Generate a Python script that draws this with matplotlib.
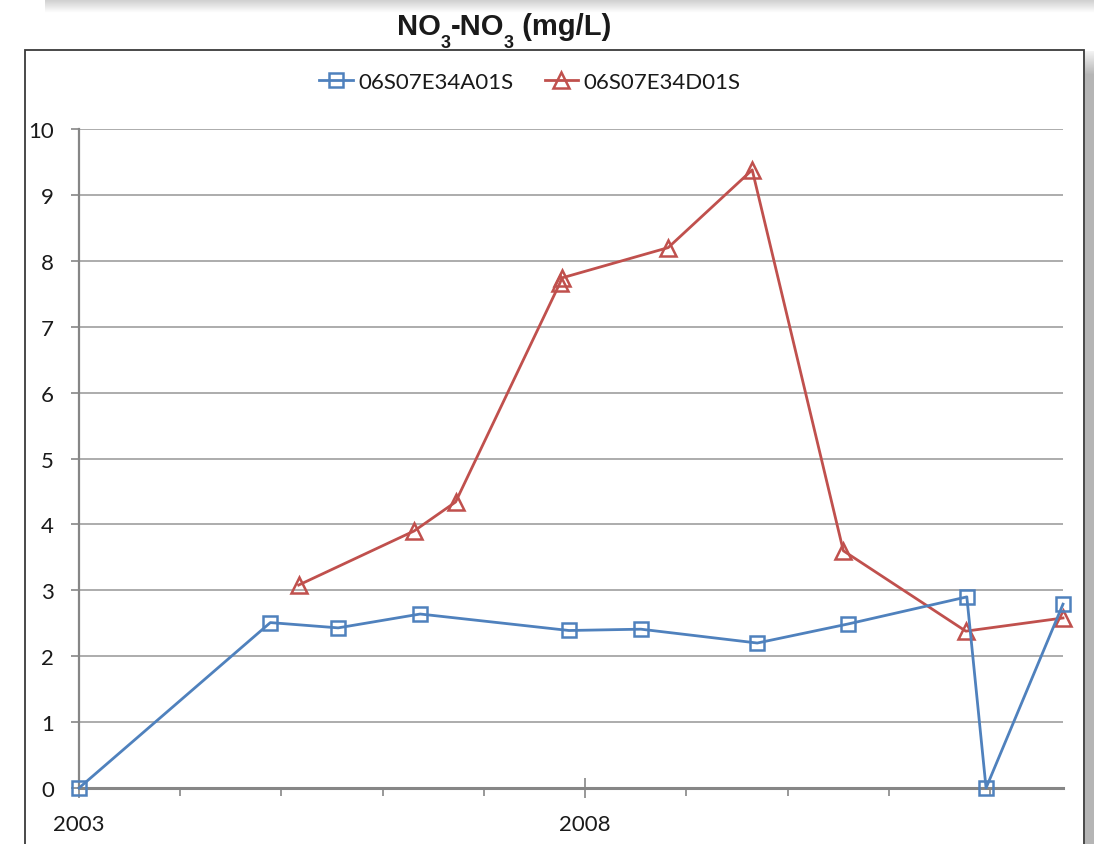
import numpy as np
import matplotlib
matplotlib.use("Agg")
import matplotlib.pyplot as plt
from matplotlib.patches import Rectangle
from matplotlib.ticker import FixedLocator, NullFormatter

# ---- data (decimal years, mg/L) ----
years_a01 = [2003.00, 2004.89, 2005.56, 2006.37, 2007.84, 2008.55, 2009.70,
             2010.60, 2011.77, 2011.96, 2012.72]
no3_a01 = [0.0, 2.51, 2.43, 2.64, 2.39, 2.41, 2.20, 2.49, 2.90, 0.0, 2.79]

years_d01 = [2005.17, 2006.31, 2006.72, 2007.75, 2007.77, 2008.82, 2009.65,
             2010.55, 2011.76, 2012.72]
no3_d01 = [3.08, 3.90, 4.34, 7.66, 7.74, 8.20, 9.38, 3.60, 2.38, 2.58]

series_names = ["06S07E34A01S", "06S07E34D01S"]
y_ticks = [0, 1, 2, 3, 4, 5, 6, 7, 8, 9, 10]
x_major = [2003, 2008]
x_minor = [2004, 2005, 2006, 2007, 2009, 2010, 2011, 2012]

# title split into normal / subscript runs
title_runs = [("NO", False), ("3", True), ("-NO", False), ("3", True),
              (" (mg/L)", False)]

W, H = 1094, 845
BLUE = "#4F81BD"
RED = "#C0504D"
GRID = "#A6A6A6"
AXIS = "#868686"

plt.rcParams["font.family"] = ["Lato", "DejaVu Sans"]

fig = plt.figure(figsize=(W / 100, H / 100), dpi=100)
fig.patch.set_facecolor("white")


def fx(px):
    return px / W


def fy(py):
    return 1 - py / H


# shadow strip along the top edge (from a chart above)
bg = fig.add_axes([0, fy(14), 1, 14 / H], zorder=-5)
grad = np.linspace(0.80, 1.0, 30).reshape(-1, 1)
bg.imshow(np.repeat(grad, 2, axis=1), cmap="gray", vmin=0, vmax=1,
          aspect="auto", extent=[fx(45), 1, 0, 1], interpolation="bilinear")
bg.set_xlim(0, 1)
bg.set_ylim(0, 1)
bg.axis("off")

# chart frame with right-hand shadow
fig.patches.append(Rectangle((fx(25), -0.05), fx(1084) - fx(25), fy(51) + 0.05,
                             transform=fig.transFigure, fill=False,
                             edgecolor="#3a3a3a", linewidth=1.3, zorder=1))
sh_top, sh_len = 52, 845 - 52
sh = fig.add_axes([fx(1085), 0, fx(1094) - fx(1085), sh_len / H], zorder=-4)
rows = np.full(sh_len, 0.71)
fade = 24
rows[:fade] = np.linspace(0.95, 0.71, fade)
sh.imshow(np.repeat(rows.reshape(-1, 1), 2, axis=1), cmap="gray", vmin=0,
          vmax=1, aspect="auto", extent=[0, 1, 0, 1], interpolation="nearest")
sh.set_xlim(0, 1)
sh.set_ylim(0, 1)
sh.axis("off")

# plotting area
ax = fig.add_axes([fx(79), fy(789), fx(1063) - fx(79), (789 - 130) / H])
ax.set_xlim(2003, 2012.72)
ax.set_ylim(0, 10)

for v in y_ticks[1:]:
    ax.axhline(v, color=GRID, linewidth=1.3, zorder=1)

ax.plot(years_a01, no3_a01, color=BLUE, linewidth=2.0, marker="s",
        markersize=10, markerfacecolor="none", markeredgecolor=BLUE,
        markeredgewidth=1.8, clip_on=False, zorder=4, label=series_names[0])
ax.plot(years_d01, no3_d01, color=RED, linewidth=2.0, marker="^",
        markersize=11, markerfacecolor="none", markeredgecolor=RED,
        markeredgewidth=1.8, clip_on=False, zorder=3, label=series_names[1])

for s in ["top", "right"]:
    ax.spines[s].set_visible(False)
ax.spines["left"].set_color(AXIS)
ax.spines["left"].set_linewidth(1.6)
ax.spines["bottom"].set_color(AXIS)
ax.spines["bottom"].set_linewidth(2.2)
ax.spines["bottom"].set_zorder(2)

ax.set_yticks(y_ticks)
ax.set_yticklabels([str(v) for v in y_ticks])
ax.tick_params(axis="y", length=6, width=1.2, color=AXIS, pad=12,
               labelsize=16, labelcolor="#1a1a1a")

ax.xaxis.set_major_locator(FixedLocator(x_major))
ax.xaxis.set_minor_locator(FixedLocator(x_minor))
ax.xaxis.set_minor_formatter(NullFormatter())
ax.set_xticklabels([str(v) for v in x_major])
ax.tick_params(axis="x", which="major", direction="inout", length=14,
               width=1.2, color=AXIS, pad=12, labelsize=16,
               labelcolor="#1a1a1a")
ax.tick_params(axis="x", which="minor", direction="out", length=6,
               width=1.2, color=AXIS)

ax.legend(loc="center", bbox_to_anchor=(fx(530), fy(83)),
          bbox_transform=fig.transFigure, ncol=2, frameon=False,
          fontsize=16, handlelength=1.5, handletextpad=0.25,
          columnspacing=1.4, borderaxespad=0, labelcolor="#1a1a1a")

# title: lay out the runs left to right, then centre the whole line
renderer = fig.canvas.get_renderer()
baseline_px = 35
sub_drop_px = 13
texts, widths = [], []
for run, is_sub in title_runs:
    t = fig.text(0, 0, run, ha="left", va="baseline",
                 fontsize=13 if is_sub else 21, fontweight="bold",
                 family="Liberation Sans", color="#1a1a1a")
    texts.append((t, is_sub))
    widths.append(t.get_window_extent(renderer).width)
total = sum(widths)
x_px = 504 - total / 2
for (t, is_sub), w in zip(texts, widths):
    y_px = baseline_px + (sub_drop_px if is_sub else 0)
    t.set_position((fx(x_px), fy(y_px)))
    x_px += w

fig.savefig("out.png", dpi=100, facecolor="white")
